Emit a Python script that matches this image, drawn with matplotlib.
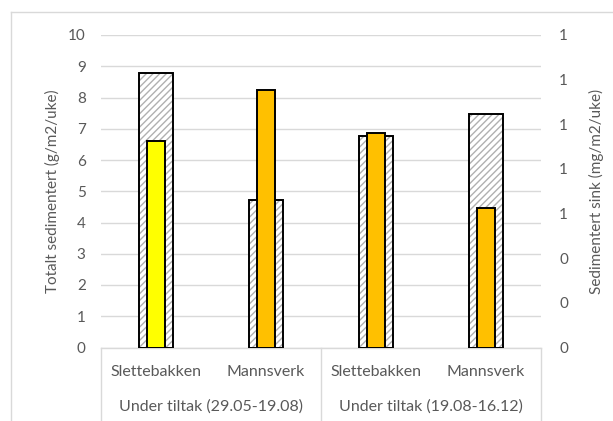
import matplotlib
matplotlib.use("Agg")
import matplotlib.pyplot as plt
from matplotlib.ticker import FormatStrFormatter, MultipleLocator
from matplotlib.lines import Line2D
import numpy as np

plt.rcParams['font.family'] = ['Lato', 'DejaVu Sans']
plt.rcParams['hatch.linewidth'] = 1.0

sites = ["Slettebakken", "Mannsverk", "Slettebakken", "Mannsverk"]
periods = ["Under tiltak (29.05-19.08)", "Under tiltak (19.08-16.12)"]
total_sed = [8.80, 4.72, 6.77, 7.47]          # g/m2/uke (left axis)
zinc_sed = [0.924, 1.152, 0.959, 0.626]       # mg/m2/uke (right axis)
zinc_colors = ["#FFFF00", "#FFC000", "#FFC000", "#FFC000"]

txt = "#595959"
grid = "#D9D9D9"
fs = 11
fs_cat = 11.5

fig = plt.figure(figsize=(6.13, 4.21), dpi=100)
ax = fig.add_axes([101/613, 1-347.5/421, 440/613, (347.5-35)/421])
x = np.arange(len(sites))

ax.set_xlim(-0.5, 3.5)
ax.set_ylim(0, 10)
ax.yaxis.set_major_locator(MultipleLocator(1))
ax.grid(axis='y', color=grid, linewidth=1.0)
ax.set_axisbelow(True)

# hatched total bars
ax.bar(x, total_sed, width=0.31, facecolor='white', edgecolor='#B0B0B0',
       hatch='/////', linewidth=0, zorder=2)
ax.bar(x, total_sed, width=0.31, facecolor='none', edgecolor='black',
       linewidth=1.4, zorder=3)

for s in ['top', 'right', 'left']:
    ax.spines[s].set_visible(False)
ax.spines['bottom'].set_color(grid)
ax.spines['bottom'].set_linewidth(1.0)
ax.set_xticks([])
ax.tick_params(axis='y', length=0, labelsize=fs, labelcolor=txt, pad=11)
ax.set_ylabel("Totalt sedimentert (g/m2/uke)", color=txt, fontsize=fs, labelpad=5.5)

ax2 = ax.twinx()
ax2.set_ylim(0, 1.4)
ax2.yaxis.set_major_locator(MultipleLocator(0.2))
ax2.yaxis.set_major_formatter(FormatStrFormatter('%.0f'))
ax2.bar(x, zinc_sed, width=0.17, color=zinc_colors, edgecolor='black',
        linewidth=1.4, zorder=3)
for s in ax2.spines.values():
    s.set_visible(False)
ax2.tick_params(axis='y', length=0, labelsize=fs, labelcolor=txt, pad=13)
ax2.set_ylabel("Sedimentert sink (mg/m2/uke)", color=txt, fontsize=fs, labelpad=15)

# category labels
for xi, s in zip(x, sites):
    ax.text(xi, -25/312.5*10, s, ha='center', va='center', color=txt,
            fontsize=fs_cat, clip_on=False, transform=ax.transData)
for i, p in enumerate(periods):
    ax.text(2*i + 0.5, -59/312.5*10, p, ha='center', va='center', color=txt,
            fontsize=fs_cat, clip_on=False)
for xs in [-0.5, 1.5, 3.5]:
    ax.plot([xs, xs], [0, -80/312.5*10], color=grid, linewidth=1.0, clip_on=False)

# outer chart border (left/top visible)
fig.add_artist(Line2D([11/613, 11/613], [0, 1-12/421], color=grid, linewidth=1.0,
                      transform=fig.transFigure))
fig.add_artist(Line2D([11/613, 1], [1-12/421, 1-12/421], color=grid, linewidth=1.0,
                      transform=fig.transFigure))

fig.savefig("out.png", dpi=100)
